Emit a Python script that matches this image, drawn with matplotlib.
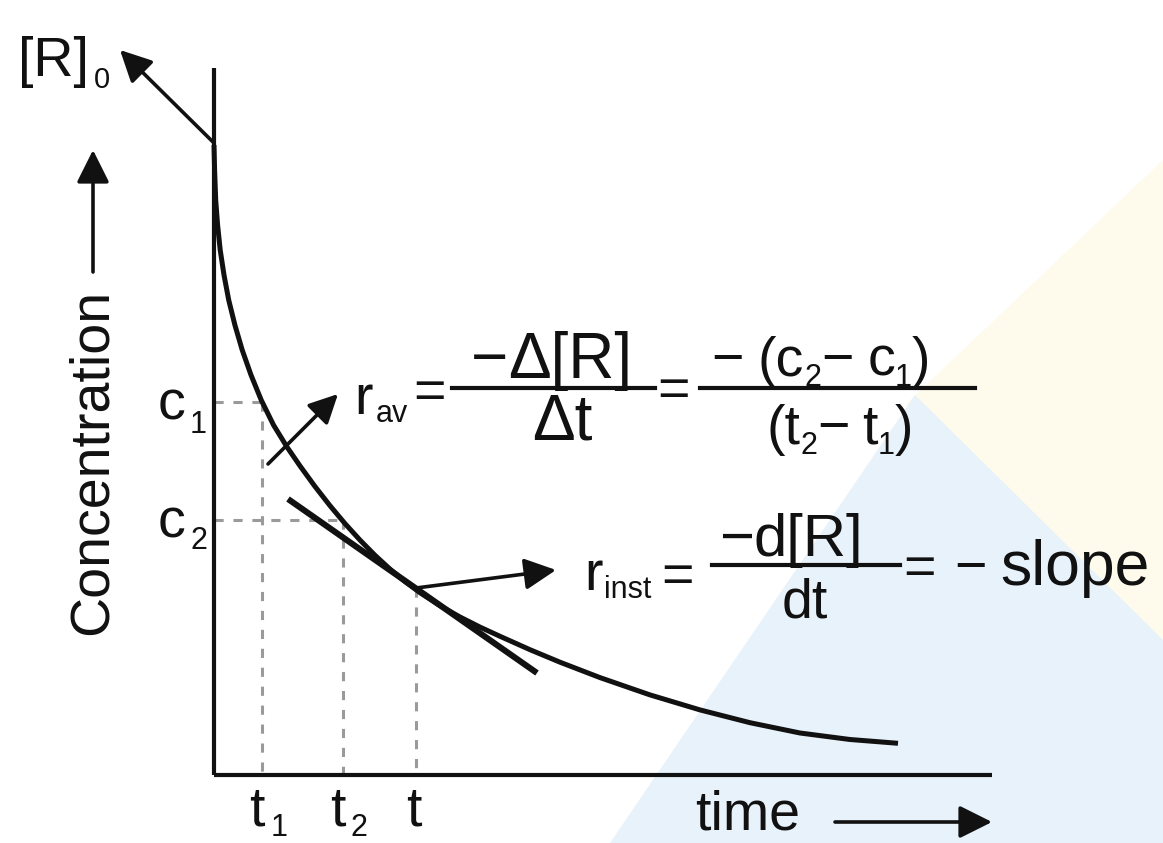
import matplotlib
matplotlib.use("Agg")
import matplotlib.pyplot as plt
from matplotlib.patches import Polygon

plt.rcParams['font.family'] = ['Liberation Sans', 'DejaVu Sans']

# ---- data (diagram coordinates, pixel-like units; y grows downward) ----
curve_x = [214, 214.6, 215.7, 217.6, 220.2, 224.0, 228.7, 234.9, 242.2, 251.0,
           261.2, 273.5, 287, 300, 315, 330, 345, 360, 375, 390, 405, 420,
           440, 460, 480, 500, 530, 560, 600, 650, 700, 750, 800, 850, 898]
curve_y = [145, 170, 200, 225, 250, 275, 300, 325, 350, 375,
           400, 425, 447, 465.9, 486.5, 505.7, 523.6, 540.1, 555.3, 569.1, 581.6, 592.7,
           605.7, 617, 627.1, 636.3, 649.7, 662.2, 677.6, 694.9, 709.9, 722.7, 733, 739.5, 743.3]
tangent_x = [288, 537]
tangent_y = [499, 673]
t_positions = [262, 343, 416]
t_levels = [402, 520, 588]
axis_origin = (214, 775)
axis_top = 68
axis_right = 992

INK = '#111111'
GRID = '#9a9a9a'
FS = 40
SUB = 22

fig = plt.figure(figsize=(11.63, 8.43), dpi=100)
ax = fig.add_axes([0, 0, 1, 1])
ax.set_xlim(0, 1163)
ax.set_ylim(843, 0)
ax.axis('off')
renderer = fig.canvas.get_renderer()

# faint watermark background shapes
ax.add_patch(Polygon([(905, 405), (1163, 160), (1163, 640)], closed=True,
                     facecolor='#fefbec', edgecolor='none', zorder=0))
ax.add_patch(Polygon([(610, 843), (915, 395), (1163, 640), (1163, 843)],
                     closed=True, facecolor='#e8f2fa', edgecolor='none', zorder=0))

# axes
ox, oy = axis_origin
ax.plot([ox, ox], [axis_top, oy], color=INK, lw=3, solid_capstyle='butt', zorder=3)
ax.plot([ox, axis_right], [oy, oy], color=INK, lw=3, solid_capstyle='butt', zorder=3)

# dotted guide lines
dash = (0, (3.0, 3.2))
for i, (tx, ty) in enumerate(zip(t_positions, t_levels)):
    ax.plot([tx, tx], [ty, oy], color=GRID, lw=2.2, linestyle=dash, zorder=2)
    if i < 2:
        ax.plot([ox, tx], [ty, ty], color=GRID, lw=2.2, linestyle=dash, zorder=2)

# curve and tangent
ax.plot(curve_x, curve_y, color=INK, lw=3.6, solid_capstyle='butt',
        solid_joinstyle='round', zorder=4)
ax.plot(tangent_x, tangent_y, color=INK, lw=4.4, solid_capstyle='butt', zorder=4)


def arrow(x0, y0, x1, y1, ms=50, lw=2.6):
    ax.annotate('', xy=(x1, y1), xytext=(x0, y0),
                arrowprops=dict(arrowstyle='-|>', mutation_scale=ms, lw=lw,
                                color=INK, shrinkA=0, shrinkB=0), zorder=5)


arrow(214, 143, 120, 50, ms=48)
arrow(93, 272, 93, 150, ms=50)
arrow(835, 822, 992, 822, ms=50)
arrow(268, 464, 338, 394, ms=44)
arrow(416, 588, 556, 570, ms=48)


def txt(x, y, s, size=FS, ha='left', va='baseline', **kw):
    return ax.text(x, y, s, fontsize=size, ha=ha, va=va, color=INK, zorder=6, **kw)


def seq(x, y, parts, ha='left'):
    """parts: (string, size, baseline shift, gap after)"""
    items = []
    cur = 0.0
    for s, size, dy, gap in parts:
        t = txt(0, y + dy, s, size=size)
        w = t.get_window_extent(renderer).width
        items.append((t, cur))
        cur += w + gap
    cur -= parts[-1][3]
    start = x if ha == 'left' else x - cur / 2.0
    for t, c in items:
        t.set_x(start + c)


M = '\u2212'

# [R]0
txt(18, 76, '[R]', size=40)
txt(94, 88, '0', size=21)

# Concentration label
ax.text(93, 462, 'Concentration', fontsize=40, rotation=90, ha='center',
        va='center', color=INK)

# c labels
txt(158, 420, 'c')
txt(190, 433, '1', size=SUB)
txt(158, 537, 'c')
txt(190, 549, '2', size=SUB)

# t labels
txt(249, 826, 't')
txt(271, 836, '1', size=SUB)
txt(330, 826, 't')
txt(351, 836, '2', size=SUB)
txt(406, 826, 't')

# time
txt(695, 829, 'time')

# r_av formula
txt(354, 414, 'r')
txt(376, 422, 'av', size=SUB)
txt(430, 394, '=', ha='center', va='center')
seq(551, 378, [(M, 46, 0, 0), ('\u0394[R]', 46, 0, 0)], ha='center')
ax.plot([452, 655], [388, 388], color=INK, lw=3, zorder=6)
seq(562, 439, [('\u0394t', 46, 0, 0)], ha='center')
txt(674, 392, '=', ha='center', va='center')
seq(821, 376, [(M, FS, 0, 14), ('(c', FS, 0, 0), ('2', SUB, 10, 0),
               (M, FS, 0, 14), ('c', FS, 0, 0), ('1', SUB, 10, 0),
               (')', FS, 0, 0)], ha='center')
ax.plot([700, 975], [388, 388], color=INK, lw=3, zorder=6)
seq(840, 444, [('(t', FS, 0, 0), ('2', SUB, 10, 0), (M, FS, 0, 12),
               ('t', FS, 0, 0), ('1', SUB, 10, 0), (')', FS, 0, 0)], ha='center')

# r_inst formula
txt(584, 590, 'r')
txt(604, 598, 'inst', size=SUB)
txt(678, 578, '=', ha='center', va='center')
seq(791, 556, [(M, 43, 0, 0), ('d[R]', 43, 0, 0)], ha='center')
ax.plot([712, 900], [565, 565], color=INK, lw=3, zorder=6)
txt(805, 617, 'dt', ha='center')
txt(920, 570, '=', ha='center', va='center')
txt(970, 570, M, ha='center', va='center')
txt(1000, 585, 'slope', size=45)

fig.savefig('out.png', dpi=100, facecolor='white')
